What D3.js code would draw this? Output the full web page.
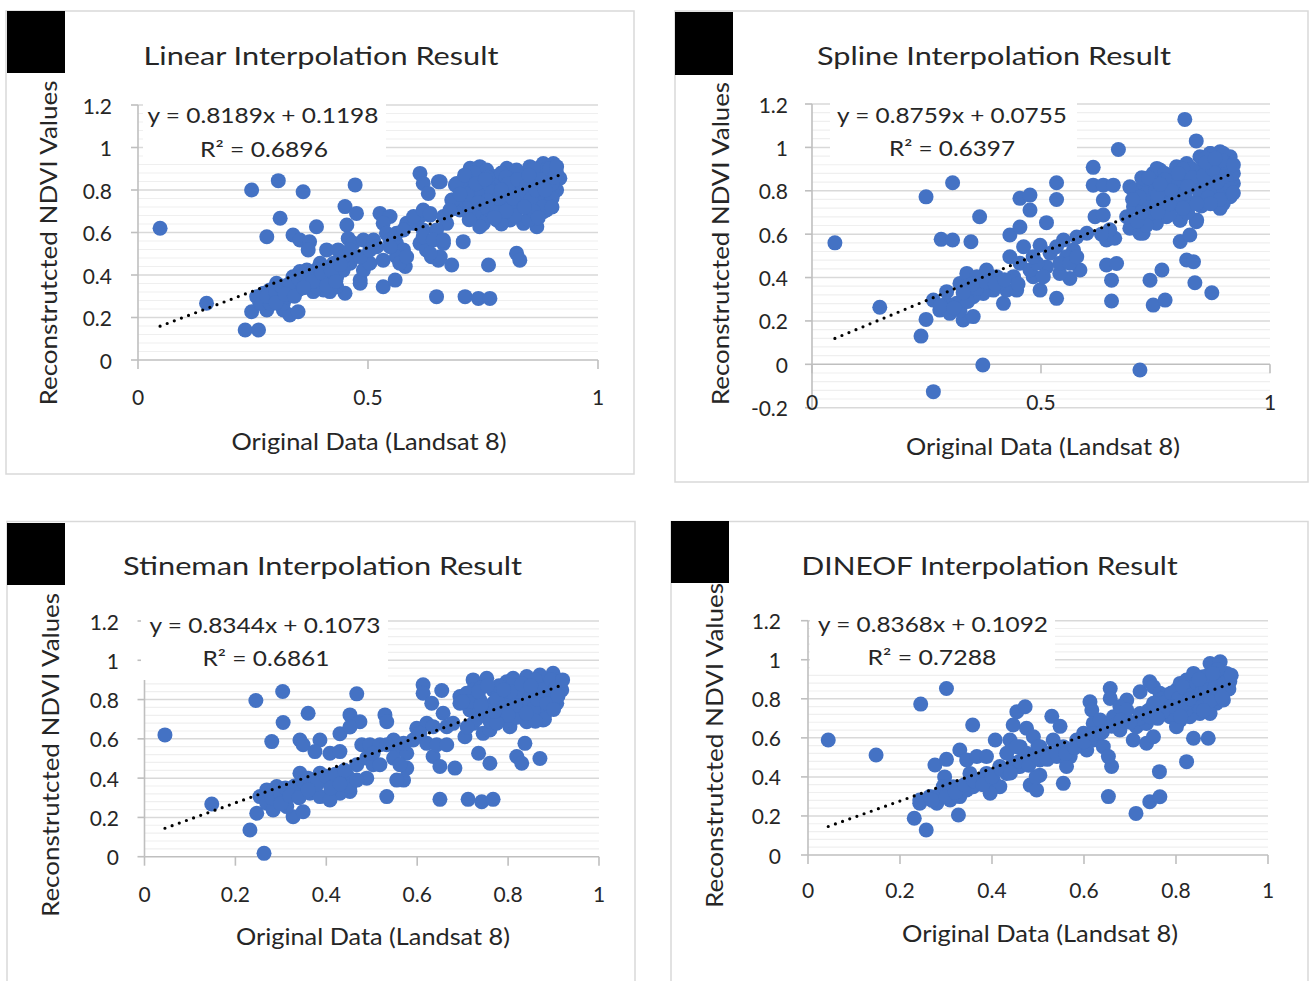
<!DOCTYPE html>
<html><head><meta charset="utf-8">
<script src="https://cdn.jsdelivr.net/npm/d3@7"></script>
<style>
body{margin:0;background:#fff}
svg{display:block}
text{font-family:Lato,"Open Sans",sans-serif;fill:#262626}
</style>
</head><body>
<svg id="c" width="1311" height="981"></svg>
<script>
// ---------------- DATA ----------------
const titles = ["Linear Interpolation Result","Spline Interpolation Result","Stineman Interpolation Result","DINEOF Interpolation Result"];
const eqLabels = ["y = 0.8189x + 0.1198","y = 0.8759x + 0.0755","y = 0.8344x + 0.1073","y = 0.8368x + 0.1092"];
const r2Labels = ["R\u00B2 = 0.6896","R\u00B2 = 0.6397","R\u00B2 = 0.6861","R\u00B2 = 0.7288"];
const slopes = [0.8189,0.8759,0.8344,0.8368];
const intercepts = [0.1198,0.0755,0.1073,0.1092];
const xAxisTitle = "Original Data (Landsat 8)";
const yAxisTitle = "Reconstrutcted NDVI Values";
const xTicksHalf = [0,0.5,1];
const xTicksHalfLabels = ["0","0.5","1"];
const xTicksFifth = [0,0.2,0.4,0.6,0.8,1];
const xTicksFifthLabels = ["0","0.2","0.4","0.6","0.8","1"];
const yTicks = [0,0.2,0.4,0.6,0.8,1,1.2];
const yTickLabels = ["0","0.2","0.4","0.6","0.8","1","1.2"];
const yTicksNeg = [-0.2,0,0.2,0.4,0.6,0.8,1,1.2];
const yTickLabelsNeg = ["-0.2","0","0.2","0.4","0.6","0.8","1","1.2"];

const linearPoints = [[0.048,0.62],[0.149,0.267],[0.233,0.141],[0.262,0.141],[0.247,0.227],[0.247,0.80],[0.305,0.844],[0.359,0.792],[0.309,0.667],[0.28,0.58],[0.472,0.824],[0.45,0.722],[0.475,0.69],[0.454,0.635],[0.388,0.627],[0.337,0.588],[0.352,0.565],[0.373,0.556],[0.37,0.518],[0.41,0.518],[0.435,0.518],[0.457,0.572],[0.468,0.549],[0.49,0.565],[0.512,0.565],[0.526,0.69],[0.548,0.675],[0.533,0.643],[0.54,0.596],[0.548,0.565],[0.562,0.549],[0.577,0.518],[0.581,0.44],[0.533,0.345],[0.559,0.376],[0.483,0.376],[0.49,0.423],[0.504,0.455],[0.45,0.314],[0.432,0.345],[0.417,0.322],[0.403,0.33],[0.381,0.322],[0.396,0.455],[0.388,0.392],[0.374,0.361],[0.352,0.416],[0.337,0.392],[0.348,0.33],[0.323,0.33],[0.309,0.298],[0.294,0.267],[0.273,0.314],[0.265,0.267],[0.28,0.235],[0.316,0.235],[0.33,0.212],[0.348,0.227],[0.301,0.361],[0.287,0.33],[0.461,0.455],[0.446,0.486],[0.562,0.486],[0.569,0.455],[0.613,0.675],[0.635,0.682],[0.599,0.643],[0.62,0.612],[0.613,0.549],[0.627,0.518],[0.638,0.486],[0.653,0.47],[0.664,0.549],[0.649,0.298],[0.682,0.447],[0.707,0.557],[0.711,0.298],[0.74,0.29],[0.765,0.29],[0.762,0.447],[0.823,0.502],[0.83,0.47],[0.613,0.878],[0.62,0.831],[0.631,0.784],[0.653,0.839],[0.682,0.753],[0.7,0.706],[0.69,0.824],[0.722,0.902],[0.743,0.91],[0.758,0.894],[0.802,0.902],[0.823,0.894],[0.852,0.91],[0.881,0.925],[0.903,0.925],[0.917,0.855],[0.91,0.8],[0.888,0.706],[0.881,0.753],[0.867,0.627],[0.707,0.816],[0.729,0.8],[0.751,0.769],[0.78,0.831],[0.801,0.8],[0.83,0.816],[0.852,0.8],[0.867,0.831],[0.888,0.847],[0.743,0.675],[0.765,0.737],[0.794,0.706],[0.809,0.659],[0.838,0.643],[0.852,0.69],[0.729,0.847],[0.773,0.863],[0.816,0.847],[0.838,0.863],[0.874,0.878],[0.896,0.878],[0.722,0.706],[0.751,0.643],[0.794,0.769],[0.83,0.753],[0.859,0.737],[0.896,0.8],[0.707,0.753],[0.736,0.722],[0.78,0.659],[0.787,0.722],[0.816,0.722],[0.743,0.627],[0.693,0.831],[0.685,0.753],[0.657,0.839],[0.80,0.659],[0.838,0.651],[0.903,0.784],[0.881,0.698],[0.657,0.486],[0.76,0.82],[0.79,0.88],[0.81,0.78],[0.84,0.79],[0.87,0.78],[0.9,0.83],[0.86,0.88],[0.82,0.68],[0.77,0.70],[0.74,0.78],[0.72,0.75],[0.85,0.66],[0.9,0.76],[0.91,0.88],[0.89,0.9],[0.86,0.9],[0.80,0.86],[0.76,0.86],[0.73,0.88],[0.71,0.87],[0.75,0.72],[0.79,0.64],[0.715,0.78],[0.735,0.83],[0.755,0.85],[0.77,0.79],[0.785,0.76],[0.805,0.83],[0.815,0.76],[0.825,0.85],[0.845,0.82],[0.855,0.76],[0.865,0.8],[0.875,0.85],[0.885,0.8],[0.895,0.9],[0.905,0.86],[0.88,0.72],[0.86,0.7],[0.84,0.72],[0.8,0.7],[0.775,0.67],[0.73,0.69],[0.72,0.66],[0.7,0.78],[0.79,0.8],[0.85,0.87],[0.91,0.91],[0.9,0.72],[0.87,0.67],[0.76,0.75],[0.74,0.74],[0.584,0.643],[0.599,0.675],[0.62,0.706],[0.635,0.69],[0.664,0.675],[0.678,0.706],[0.671,0.643],[0.649,0.612],[0.62,0.58],[0.642,0.565],[0.664,0.565],[0.635,0.502],[0.258,0.298],[0.269,0.267],[0.287,0.267],[0.301,0.298],[0.316,0.267],[0.323,0.298],[0.345,0.33],[0.359,0.361],[0.374,0.392],[0.388,0.423],[0.403,0.392],[0.417,0.376],[0.432,0.392],[0.425,0.455],[0.446,0.423],[0.367,0.423],[0.345,0.361],[0.33,0.33],[0.388,0.345],[0.461,0.518],[0.483,0.486],[0.504,0.518],[0.519,0.533],[0.548,0.533],[0.533,0.47],[0.562,0.596],[0.577,0.612],[0.584,0.486],[0.483,0.361],[0.28,0.3],[0.3,0.32],[0.31,0.35],[0.33,0.36],[0.35,0.38],[0.36,0.4],[0.38,0.37],[0.4,0.41],[0.42,0.42],[0.44,0.45],[0.3,0.27],[0.32,0.31],[0.34,0.3],[0.36,0.34],[0.41,0.35],[0.43,0.37]];

const splinePoints = [[0.05,0.56],[0.148,0.263],[0.238,0.13],[0.249,0.207],[0.265,-0.126],[0.373,-0.003],[0.716,-0.026],[0.249,0.772],[0.307,0.837],[0.366,0.68],[0.282,0.576],[0.307,0.573],[0.347,0.565],[0.454,0.765],[0.476,0.78],[0.476,0.711],[0.512,0.653],[0.534,0.837],[0.534,0.76],[0.614,0.908],[0.669,0.99],[0.814,1.129],[0.839,1.03],[0.614,0.826],[0.636,0.826],[0.658,0.826],[0.694,0.818],[0.636,0.757],[0.618,0.68],[0.636,0.688],[0.432,0.596],[0.454,0.633],[0.462,0.542],[0.498,0.549],[0.432,0.496],[0.454,0.466],[0.483,0.404],[0.498,0.342],[0.512,0.449],[0.534,0.304],[0.549,0.573],[0.571,0.527],[0.585,0.435],[0.563,0.396],[0.541,0.419],[0.578,0.587],[0.6,0.604],[0.643,0.458],[0.665,0.465],[0.654,0.388],[0.654,0.292],[0.643,0.573],[0.661,0.581],[0.65,0.62],[0.632,0.6],[0.738,0.388],[0.764,0.435],[0.745,0.273],[0.771,0.296],[0.804,0.566],[0.825,0.596],[0.818,0.481],[0.833,0.473],[0.836,0.376],[0.873,0.33],[0.694,0.627],[0.716,0.604],[0.687,0.68],[0.752,0.65],[0.774,0.68],[0.804,0.664],[0.839,0.657],[0.891,0.719],[0.906,0.772],[0.265,0.296],[0.279,0.25],[0.301,0.235],[0.33,0.204],[0.352,0.22],[0.294,0.335],[0.323,0.373],[0.338,0.419],[0.36,0.404],[0.381,0.435],[0.403,0.404],[0.418,0.281],[0.425,0.342],[0.447,0.342],[0.396,0.342],[0.374,0.327],[0.41,0.373],[0.44,0.404],[0.316,0.281],[0.352,0.312],[0.294,0.281],[0.323,0.25],[0.476,0.435],[0.491,0.466],[0.52,0.512],[0.534,0.542],[0.556,0.496],[0.541,0.466],[0.483,0.496],[0.505,0.404],[0.563,0.466],[0.578,0.496],[0.702,0.803],[0.724,0.834],[0.745,0.88],[0.76,0.896],[0.782,0.865],[0.796,0.911],[0.818,0.926],[0.847,0.957],[0.869,0.972],[0.891,0.98],[0.906,0.911],[0.92,0.834],[0.913,0.773],[0.884,0.803],[0.862,0.865],[0.84,0.88],[0.825,0.819],[0.804,0.803],[0.774,0.773],[0.745,0.757],[0.724,0.742],[0.702,0.726],[0.738,0.696],[0.789,0.726],[0.818,0.757],[0.847,0.773],[0.876,0.742],[0.898,0.849],[0.854,0.911],[0.833,0.834],[0.811,0.865],[0.767,0.819],[0.731,0.788],[0.753,0.834],[0.876,0.926],[0.898,0.742],[0.884,0.896],[0.913,0.957],[0.753,0.903],[0.723,0.604],[0.803,0.665],[0.84,0.665],[0.891,0.726],[0.913,0.788],[0.906,0.89],[0.898,0.972],[0.87,0.972],[0.72,0.86],[0.75,0.80],[0.79,0.84],[0.83,0.9],[0.86,0.82],[0.88,0.86],[0.9,0.93],[0.87,0.79],[0.8,0.75],[0.76,0.72],[0.73,0.64],[0.71,0.66],[0.78,0.69],[0.82,0.7],[0.85,0.73],[0.9,0.8],[0.92,0.88],[0.86,0.95],[0.81,0.9],[0.77,0.88],[0.715,0.77],[0.735,0.86],[0.755,0.78],[0.77,0.85],[0.785,0.8],[0.8,0.88],[0.815,0.79],[0.83,0.86],[0.845,0.8],[0.855,0.87],[0.865,0.77],[0.875,0.9],[0.885,0.84],[0.895,0.94],[0.905,0.85],[0.915,0.81],[0.89,0.76],[0.87,0.74],[0.84,0.74],[0.81,0.72],[0.78,0.74],[0.755,0.7],[0.72,0.7],[0.7,0.76],[0.76,0.83],[0.82,0.82],[0.86,0.93],[0.88,0.95],[0.92,0.92],[0.92,0.79],[0.28,0.27],[0.31,0.26],[0.34,0.29],[0.36,0.35],[0.38,0.38],[0.4,0.37],[0.42,0.39],[0.45,0.37],[0.35,0.37],[0.33,0.33]];

const stinemanPoints = [[0.045,0.62],[0.148,0.268],[0.232,0.136],[0.247,0.221],[0.263,0.017],[0.245,0.795],[0.304,0.841],[0.305,0.683],[0.28,0.586],[0.36,0.73],[0.467,0.829],[0.452,0.722],[0.474,0.687],[0.43,0.626],[0.452,0.66],[0.342,0.594],[0.349,0.57],[0.386,0.594],[0.375,0.535],[0.408,0.527],[0.43,0.535],[0.529,0.722],[0.533,0.687],[0.548,0.594],[0.555,0.544],[0.577,0.527],[0.577,0.451],[0.57,0.39],[0.555,0.39],[0.533,0.306],[0.478,0.57],[0.496,0.57],[0.518,0.57],[0.489,0.502],[0.503,0.468],[0.489,0.4],[0.467,0.468],[0.445,0.417],[0.452,0.332],[0.613,0.875],[0.613,0.832],[0.632,0.781],[0.654,0.846],[0.599,0.654],[0.621,0.679],[0.635,0.662],[0.657,0.73],[0.665,0.662],[0.679,0.679],[0.621,0.577],[0.635,0.51],[0.65,0.459],[0.643,0.57],[0.665,0.57],[0.683,0.451],[0.65,0.292],[0.712,0.292],[0.742,0.28],[0.767,0.292],[0.735,0.527],[0.76,0.476],[0.819,0.51],[0.83,0.476],[0.837,0.577],[0.87,0.5],[0.705,0.611],[0.745,0.628],[0.804,0.662],[0.841,0.687],[0.877,0.696],[0.694,0.815],[0.723,0.9],[0.753,0.908],[0.767,0.849],[0.797,0.891],[0.811,0.908],[0.841,0.917],[0.87,0.925],[0.899,0.934],[0.918,0.849],[0.907,0.781],[0.885,0.815],[0.863,0.866],[0.834,0.849],[0.819,0.798],[0.79,0.815],[0.767,0.781],[0.738,0.798],[0.716,0.747],[0.723,0.679],[0.753,0.713],[0.782,0.73],[0.811,0.747],[0.841,0.764],[0.87,0.781],[0.899,0.798],[0.855,0.815],[0.797,0.696],[0.826,0.73],[0.877,0.883],[0.723,0.849],[0.76,0.645],[0.694,0.781],[0.709,0.832],[0.74,0.86],[0.78,0.87],[0.82,0.84],[0.86,0.83],[0.89,0.87],[0.91,0.9],[0.88,0.76],[0.85,0.72],[0.78,0.76],[0.75,0.75],[0.73,0.72],[0.8,0.78],[0.9,0.82],[0.86,0.9],[0.82,0.71],[0.76,0.69],[0.88,0.72],[0.715,0.79],[0.735,0.84],[0.755,0.87],[0.775,0.8],[0.79,0.76],[0.805,0.84],[0.815,0.77],[0.83,0.88],[0.845,0.8],[0.855,0.75],[0.865,0.8],[0.875,0.85],[0.885,0.78],[0.895,0.9],[0.905,0.86],[0.91,0.82],[0.88,0.7],[0.86,0.69],[0.84,0.73],[0.8,0.72],[0.775,0.68],[0.73,0.7],[0.71,0.66],[0.7,0.79],[0.79,0.85],[0.85,0.87],[0.92,0.9],[0.9,0.75],[0.77,0.74],[0.74,0.77],[0.254,0.306],[0.269,0.272],[0.283,0.238],[0.305,0.289],[0.327,0.204],[0.349,0.229],[0.335,0.323],[0.357,0.357],[0.372,0.39],[0.386,0.425],[0.401,0.39],[0.415,0.357],[0.43,0.323],[0.452,0.357],[0.467,0.39],[0.364,0.323],[0.386,0.306],[0.408,0.289],[0.43,0.425],[0.342,0.425],[0.298,0.323],[0.313,0.255],[0.269,0.34],[0.291,0.357],[0.503,0.527],[0.533,0.57],[0.548,0.502],[0.562,0.468],[0.518,0.468],[0.591,0.594],[0.606,0.628],[0.57,0.577],[0.28,0.3],[0.3,0.32],[0.31,0.35],[0.33,0.36],[0.35,0.38],[0.36,0.4],[0.38,0.37],[0.4,0.41],[0.42,0.42],[0.44,0.44],[0.3,0.27],[0.32,0.31],[0.34,0.3],[0.36,0.34],[0.41,0.35],[0.43,0.37]];

const dineofPoints = [[0.044,0.589],[0.148,0.512],[0.231,0.188],[0.257,0.128],[0.243,0.265],[0.245,0.773],[0.301,0.853],[0.358,0.666],[0.327,0.205],[0.276,0.461],[0.301,0.49],[0.297,0.4],[0.33,0.538],[0.407,0.589],[0.454,0.734],[0.472,0.759],[0.446,0.666],[0.475,0.649],[0.439,0.589],[0.461,0.555],[0.49,0.606],[0.5,0.555],[0.483,0.358],[0.497,0.333],[0.504,0.409],[0.496,0.40],[0.53,0.71],[0.548,0.659],[0.533,0.589],[0.555,0.555],[0.57,0.504],[0.562,0.453],[0.555,0.367],[0.613,0.785],[0.617,0.743],[0.657,0.853],[0.657,0.802],[0.62,0.589],[0.642,0.555],[0.66,0.453],[0.653,0.504],[0.653,0.299],[0.713,0.213],[0.743,0.273],[0.765,0.298],[0.764,0.427],[0.823,0.478],[0.838,0.598],[0.87,0.598],[0.693,0.794],[0.722,0.836],[0.743,0.887],[0.751,0.862],[0.707,0.589],[0.736,0.572],[0.751,0.606],[0.714,0.657],[0.736,0.674],[0.686,0.725],[0.678,0.64],[0.874,0.981],[0.896,0.99],[0.91,0.93],[0.917,0.888],[0.903,0.828],[0.888,0.777],[0.874,0.725],[0.852,0.725],[0.83,0.708],[0.809,0.691],[0.787,0.708],[0.773,0.743],[0.78,0.794],[0.801,0.845],[0.823,0.896],[0.838,0.93],[0.859,0.913],[0.881,0.879],[0.816,0.794],[0.845,0.811],[0.867,0.828],[0.896,0.896],[0.794,0.76],[0.83,0.76],[0.859,0.777],[0.888,0.828],[0.765,0.828],[0.801,0.657],[0.903,0.794],[0.852,0.862],[0.809,0.879],[0.78,0.82],[0.8,0.77],[0.82,0.83],[0.84,0.85],[0.86,0.8],[0.88,0.8],[0.9,0.86],[0.85,0.76],[0.82,0.74],[0.79,0.72],[0.76,0.76],[0.77,0.8],[0.91,0.9],[0.89,0.95],[0.775,0.78],[0.79,0.83],[0.805,0.8],[0.815,0.86],[0.825,0.78],[0.835,0.82],[0.845,0.88],[0.855,0.83],[0.865,0.86],[0.875,0.79],[0.885,0.86],[0.895,0.84],[0.905,0.88],[0.915,0.85],[0.87,0.92],[0.85,0.9],[0.83,0.8],[0.81,0.75],[0.79,0.76],[0.77,0.73],[0.76,0.7],[0.81,0.71],[0.86,0.74],[0.9,0.81],[0.88,0.93],[0.92,0.92],[0.72,0.7],[0.7,0.68],[0.74,0.74],[0.243,0.282],[0.265,0.299],[0.28,0.265],[0.287,0.316],[0.309,0.282],[0.33,0.299],[0.345,0.333],[0.359,0.35],[0.374,0.384],[0.388,0.418],[0.403,0.384],[0.417,0.35],[0.417,0.453],[0.432,0.418],[0.446,0.47],[0.461,0.453],[0.475,0.521],[0.49,0.504],[0.504,0.487],[0.519,0.521],[0.541,0.504],[0.504,0.555],[0.345,0.487],[0.367,0.504],[0.388,0.504],[0.432,0.521],[0.316,0.35],[0.294,0.35],[0.352,0.418],[0.396,0.316],[0.454,0.555],[0.584,0.589],[0.599,0.623],[0.62,0.674],[0.635,0.691],[0.664,0.708],[0.678,0.76],[0.693,0.743],[0.722,0.725],[0.743,0.708],[0.751,0.777],[0.635,0.623],[0.606,0.538],[0.27,0.28],[0.3,0.3],[0.32,0.32],[0.34,0.36],[0.36,0.38],[0.38,0.36],[0.4,0.4],[0.42,0.44],[0.44,0.42],[0.46,0.48],[0.48,0.46],[0.5,0.5],[0.52,0.49],[0.54,0.52],[0.56,0.52],[0.58,0.55],[0.6,0.58],[0.62,0.62],[0.64,0.63],[0.66,0.66],[0.68,0.69]];

// ---------------- LAYOUT ----------------
const layouts = [
 {frame:[6,11,634,474], sq:[7,11,58,62], xr:[138,598], yd:[0,1.2], yr:[360,105], xlabBase:405, ylabRight:112, title:[321,65,355], eq1:[263,123,231], eq2:[264,157,128], box:[143,97,386,163], xt:[369,450,275], yt:[57,243,325]},
 {frame:[675,11,1308,482], sq:[675,12,58,63], xr:[812,1270], yd:[-0.2,1.2], yr:[407.7,104], xlabBase:410, ylabRight:788, title:[994,65,354], eq1:[952,122.7,230], eq2:[952,156,126], box:[830,97,1077,162], xt:[1043,455,274], yt:[729,243.5,323]},
 {frame:[7,521.5,635,1000], sq:[7,523,58,62], xr:[144.5,599], yd:[0,1.2], yr:[856.7,621], xlabBase:902, ylabRight:119, title:[322.6,575,399], eq1:[265,633,231], eq2:[266,666,127], box:[141,605,388,680], xt:[373,945,274], yt:[59,755,324]},
 {frame:[671,521.5,1308,1000], sq:[671,521,58,62], xr:[808,1268], yd:[0,1.2], yr:[855,620.7], xlabBase:898, ylabRight:781, title:[989.6,575,376], eq1:[933,632,230], eq2:[932,665,129], box:[810,605,1055,672], xt:[1040,942,276], yt:[723,745.5,325]}
];
const pointSets = [linearPoints, splinePoints, stinemanPoints, dineofPoints];
const xTickSets = [[xTicksHalf,xTicksHalfLabels],[xTicksHalf,xTicksHalfLabels],[xTicksFifth,xTicksFifthLabels],[xTicksFifth,xTicksFifthLabels]];
const yTickSets = [[yTicks,yTickLabels],[yTicksNeg,yTickLabelsNeg],[yTicks,yTickLabels],[yTicks,yTickLabels]];

const svg = d3.select("#c");

layouts.forEach((L, i) => {
  const g = svg.append("g");
  const x = d3.scaleLinear().domain([0,1]).range(L.xr);
  const y = d3.scaleLinear().domain(L.yd).range(L.yr);
  const [xt, xtl] = xTickSets[i];
  const [yt, ytl] = yTickSets[i];

  g.append("rect").attr("x",L.frame[0]).attr("y",L.frame[1])
   .attr("width",L.frame[2]-L.frame[0]).attr("height",L.frame[3]-L.frame[1])
   .attr("fill","#fff").attr("stroke","#d9d9d9").attr("stroke-width",1.5);

  const nMinor = Math.round((1.2 - L.yd[0]) / 0.04);
  const minor = d3.range(nMinor + 1).map(k => +(L.yd[0] + k*0.04).toFixed(3)).filter(v => Math.abs(v*5 - Math.round(v*5)) > 1e-6);
  g.selectAll(".mn").data(minor).join("line")
   .attr("x1",x(0)).attr("x2",x(1)).attr("y1",d=>y(d)).attr("y2",d=>y(d))
   .attr("stroke","#efefef").attr("stroke-width",1.2);
  g.selectAll(".mj").data(yt.filter(v => v !== 0)).join("line")
   .attr("x1",x(0)).attr("x2",x(1)).attr("y1",d=>y(d)).attr("y2",d=>y(d))
   .attr("stroke","#d9d9d9").attr("stroke-width",1.5);

  const ax = "#bfbfbf";
  g.append("line").attr("x1",x(0)).attr("x2",x(1)).attr("y1",y(0)).attr("y2",y(0)).attr("stroke",ax).attr("stroke-width",1.6);
  g.append("line").attr("x1",x(0)).attr("x2",x(0)).attr("y1",y(1.2)).attr("y2",y(L.yd[0])).attr("stroke",ax).attr("stroke-width",1.6);
  g.selectAll(".xtk").data(xt).join("line")
   .attr("x1",d=>x(d)).attr("x2",d=>x(d)).attr("y1",y(0)).attr("y2",y(0)+9).attr("stroke",ax).attr("stroke-width",1.6);
  g.selectAll(".ytk").data(yt).join("line")
   .attr("x1",x(0)-7).attr("x2",x(0)).attr("y1",d=>y(d)).attr("y2",d=>y(d)).attr("stroke",ax).attr("stroke-width",1.6);

  g.selectAll(".pt").data(pointSets[i]).join("circle")
   .attr("cx",d=>x(d[0])).attr("cy",d=>y(d[1])).attr("r",7.5).attr("fill","#4472c4");

  const ext = d3.extent(pointSets[i], d => d[0]);
  g.append("line")
   .attr("x1",x(ext[0])).attr("y1",y(slopes[i]*ext[0]+intercepts[i]))
   .attr("x2",x(ext[1])).attr("y2",y(slopes[i]*ext[1]+intercepts[i]))
   .attr("stroke","#000").attr("stroke-width",3.2).attr("stroke-linecap","round")
   .attr("stroke-dasharray","0 7.6");

  g.append("rect").attr("x",L.box[0]).attr("y",L.box[1])
   .attr("width",L.box[2]-L.box[0]).attr("height",L.box[3]-L.box[1]).attr("fill","#fff");
  const txt = (p, s, fs) => g.append("text").attr("x",p[0]).attr("y",p[1])
     .attr("text-anchor","middle").attr("font-size",fs)
     .attr("textLength",p[2]).attr("lengthAdjust","spacingAndGlyphs").text(s);
  txt(L.eq1, eqLabels[i], 21);
  txt(L.eq2, r2Labels[i], 21);
  txt(L.title, titles[i], 25);
  txt(L.xt, xAxisTitle, 23);
  g.append("text").attr("transform",`translate(${L.yt[0]},${L.yt[1]}) rotate(-90)`)
   .attr("text-anchor","middle").attr("font-size",24)
   .attr("textLength",L.yt[2]).attr("lengthAdjust","spacingAndGlyphs").text(yAxisTitle);

  g.selectAll(".xl").data(xt).join("text")
   .attr("x",d=>x(d)).attr("y",L.xlabBase).attr("text-anchor","middle").attr("font-size",21)
   .text((d,k)=>xtl[k]);
  g.selectAll(".yl").data(yt).join("text")
   .attr("x",L.ylabRight).attr("y",d=>y(d)+8.5).attr("text-anchor","end").attr("font-size",21)
   .text((d,k)=>ytl[k]);

  g.append("rect").attr("x",L.sq[0]).attr("y",L.sq[1]).attr("width",L.sq[2]).attr("height",L.sq[3]).attr("fill","#000");
});
</script>
</body></html>
